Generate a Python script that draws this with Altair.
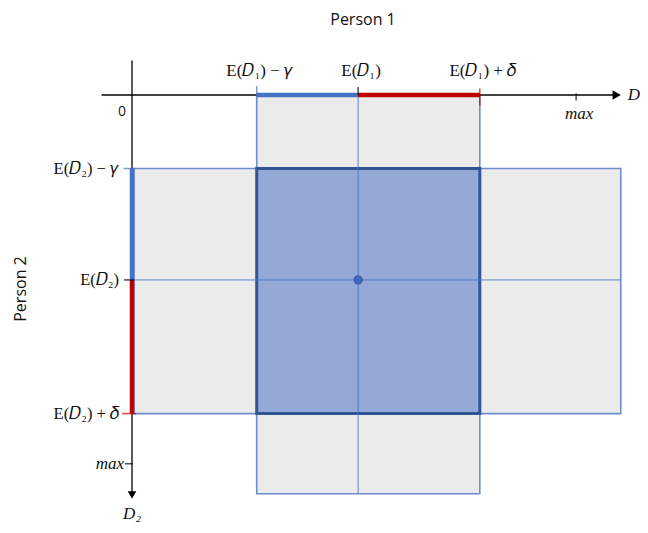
import altair as alt
import pandas as pd

# ---- diagram values (abstract units) ----
E1 = 2.23          # E(D1)
E2 = 1.66          # E(D2)
GAMMA = 1.0
DELTA = 1.2
X_MAX = 4.38
Y_MAX = 3.31
X_END = 4.82       # right end of the Person-2 strip
Y_END = 3.58       # bottom end of the Person-1 strip
X_AXIS = [-0.3, 4.78]
Y_AXIS = [-0.31, 3.59]

x_tick_labels = ["E(𝐷₁) − 𝛾", "E(𝐷₁)", "E(𝐷₁) + 𝛿"]
y_tick_labels = ["E(𝐷₂) − 𝛾", "E(𝐷₂)", "E(𝐷₂) + 𝛿"]
max_label = "max"
titles = ["Person 1", "Person 2"]

BLUE = "#4472c4"
RED = "#c00000"
SERIF = "Liberation Serif"

xs = alt.Scale(domain=[0, 5], range=[124, 631])
ys = alt.Scale(domain=[0, 4], range=[87, 532.6])


def X(f):
    return alt.X(f, type="quantitative", scale=xs, axis=None)


def Y(f):
    return alt.Y(f, type="quantitative", scale=ys, axis=None)


def X2(f):
    return alt.X2(f)


def Y2(f):
    return alt.Y2(f)


strips = pd.DataFrame({
    "x": [E1 - GAMMA, 0.02],
    "x2": [E1 + DELTA, X_END],
    "y": [0, E2 - GAMMA],
    "y2": [Y_END, E2 + DELTA],
})
square = pd.DataFrame({"x": [E1 - GAMMA], "x2": [E1 + DELTA],
                       "y": [E2 - GAMMA], "y2": [E2 + DELTA]})

strip_layer = alt.Chart(strips).mark_rect(
    fill="#ebebeb", stroke="#6d8dcb", strokeWidth=1.6
).encode(x=X("x"), x2=X2("x2"), y=Y("y"), y2=Y2("y2"))

square_layer = alt.Chart(square).mark_rect(
    fill="#94a9d5", stroke="#2f5597", strokeWidth=3
).encode(x=X("x"), x2=X2("x2"), y=Y("y"), y2=Y2("y2"))

cross_v = alt.Chart(pd.DataFrame({"x": [E1], "y": [0], "y2": [Y_END]})).mark_rule(
    color=BLUE, strokeWidth=1, opacity=0.85
).encode(x=X("x"), y=Y("y"), y2=Y2("y2"))
cross_h = alt.Chart(pd.DataFrame({"y": [E2], "x": [0], "x2": [X_END]})).mark_rule(
    color=BLUE, strokeWidth=1, opacity=0.85
).encode(y=Y("y"), x=X("x"), x2=X2("x2"))

center = alt.Chart(pd.DataFrame({"x": [E1], "y": [E2]})).mark_point(
    filled=True, size=65, fill="#3d6bc2", stroke="#2f5597", strokeWidth=1, opacity=1
).encode(x=X("x"), y=Y("y"))

# axes
x_axis = alt.Chart(pd.DataFrame({"x": [X_AXIS[0]], "x2": [X_AXIS[1]], "y": [0]})).mark_rule(
    color="black", strokeWidth=1.3
).encode(x=X("x"), x2=X2("x2"), y=Y("y"))
y_axis = alt.Chart(pd.DataFrame({"y": [Y_AXIS[0]], "y2": [Y_AXIS[1]], "x": [0]})).mark_rule(
    color="black", strokeWidth=1.3
).encode(y=Y("y"), y2=Y2("y2"), x=X("x"))
arrow_x = alt.Chart(pd.DataFrame({"x": [X_AXIS[1]], "y": [0]})).mark_point(
    shape="triangle-right", filled=True, color="black", size=90, opacity=1
).encode(x=X("x"), y=Y("y"))
arrow_y = alt.Chart(pd.DataFrame({"x": [0], "y": [Y_AXIS[1]]})).mark_point(
    shape="triangle-down", filled=True, color="black", size=75, opacity=1
).encode(x=X("x"), y=Y("y"))

# colored intervals on the axes
seg_x = pd.DataFrame({"x": [E1 - GAMMA, E1], "x2": [E1, E1 + DELTA], "y": [0, 0],
                      "c": [BLUE, RED]})
seg_y = pd.DataFrame({"y": [E2 - GAMMA, E2], "y2": [E2, E2 + DELTA], "x": [0, 0],
                      "c": [BLUE, RED]})
seg_x_layer = alt.Chart(seg_x).mark_rule(strokeWidth=4.5).encode(
    x=X("x"), x2=X2("x2"), y=Y("y"), color=alt.Color("c:N", scale=None))
seg_y_layer = alt.Chart(seg_y).mark_rule(strokeWidth=4.5).encode(
    y=Y("y"), y2=Y2("y2"), x=X("x"), color=alt.Color("c:N", scale=None))

# ticks
xt_up = pd.DataFrame({"x": [E1 - GAMMA, E1], "y": [0, 0], "c": [BLUE, "black"], "s": [10, 8]})
xt_mid = pd.DataFrame({"x": [E1 + DELTA, X_MAX], "y": [0, 0], "c": [RED, "black"], "s": [17, 7]})
yt = pd.DataFrame({"y": [E2 - GAMMA, E2, E2 + DELTA, Y_MAX], "x": [0, 0, 0, 0],
                   "c": [BLUE, "black", RED, "black"], "s": [11, 10, 14, 8]})
xt_up_layer = alt.Chart(xt_up).mark_tick(orient="vertical", thickness=1.5, yOffset=-4).encode(
    x=X("x"), y=Y("y"), color=alt.Color("c:N", scale=None), size=alt.Size("s:Q", scale=None))
xt_mid_layer = alt.Chart(xt_mid).mark_tick(orient="vertical", thickness=1.5, yOffset=2).encode(
    x=X("x"), y=Y("y"), color=alt.Color("c:N", scale=None), size=alt.Size("s:Q", scale=None))
yt_layer = alt.Chart(yt).mark_tick(orient="horizontal", thickness=1.5, xOffset=-3).encode(
    x=X("x"), y=Y("y"), color=alt.Color("c:N", scale=None), size=alt.Size("s:Q", scale=None))

# labels
xl = pd.DataFrame({"x": [E1 - GAMMA, E1, E1 + DELTA], "y": [0, 0, 0], "t": x_tick_labels})
yl = pd.DataFrame({"y": [E2 - GAMMA, E2, E2 + DELTA], "x": [0, 0, 0], "t": y_tick_labels})
xl_layer = alt.Chart(xl).mark_text(font=SERIF, fontSize=17, baseline="middle", align="center",
                                   dy=-24, dx=3, color="#111").encode(
    x=X("x"), y=Y("y"), text="t:N")
yl_layer = alt.Chart(yl).mark_text(font=SERIF, fontSize=16.5, baseline="middle", align="right",
                                   dx=-13, color="#111").encode(
    x=X("x"), y=Y("y"), text="t:N")
max_x = alt.Chart(pd.DataFrame({"x": [X_MAX], "y": [0], "t": [max_label]})).mark_text(
    font=SERIF, fontSize=17, fontStyle="italic", baseline="middle", align="center", dy=19, dx=3,
    color="#111").encode(x=X("x"), y=Y("y"), text="t:N")
max_y = alt.Chart(pd.DataFrame({"x": [0], "y": [Y_MAX], "t": [max_label]})).mark_text(
    font=SERIF, fontSize=17, fontStyle="italic", baseline="middle", align="right", dx=-8,
    color="#111").encode(x=X("x"), y=Y("y"), text="t:N")
d_x = alt.Chart(pd.DataFrame({"x": [X_AXIS[1]], "y": [0], "t": ["D"]})).mark_text(
    font=SERIF, fontSize=17, fontStyle="italic", baseline="middle", align="left", dx=11,
    color="#111").encode(x=X("x"), y=Y("y"), text="t:N")
d_y = alt.Chart(pd.DataFrame({"x": [0], "y": [Y_AXIS[1]], "t": ["D₂"]})).mark_text(
    font=SERIF, fontSize=17, fontStyle="italic", baseline="middle", align="center", dy=19,
    color="#111").encode(x=X("x"), y=Y("y"), text="t:N")
zero = alt.Chart(pd.DataFrame({"x": [0], "y": [0], "t": ["0"]})).mark_text(
    font="Open Sans", fontSize=14, baseline="middle", align="center", dx=-10, dy=17,
    color="#222").encode(x=X("x"), y=Y("y"), text="t:N")

title1 = alt.Chart(pd.DataFrame({"t": [titles[0]]})).mark_text(
    font="Open Sans", fontSize=16, baseline="middle", align="center", color="#111").encode(
    x=alt.value(355), y=alt.value(12), text="t:N")
title2 = alt.Chart(pd.DataFrame({"t": [titles[1]]})).mark_text(
    font="Open Sans", fontSize=16, baseline="middle", align="center", angle=270,
    color="#111").encode(x=alt.value(13), y=alt.value(281), text="t:N")

chart = alt.layer(
    strip_layer, square_layer, cross_v, cross_h, center,
    x_axis, y_axis, arrow_x, arrow_y,
    seg_x_layer, seg_y_layer, xt_up_layer, xt_mid_layer, yt_layer,
    xl_layer, yl_layer, max_x, max_y, d_x, d_y, zero, title1, title2,
).properties(
    width=632, height=517, padding=0, autosize=alt.AutoSizeParams(type="none")
).configure_view(stroke=None)

chart.save("out.html", embed_options={"renderer": "svg", "actions": False})
